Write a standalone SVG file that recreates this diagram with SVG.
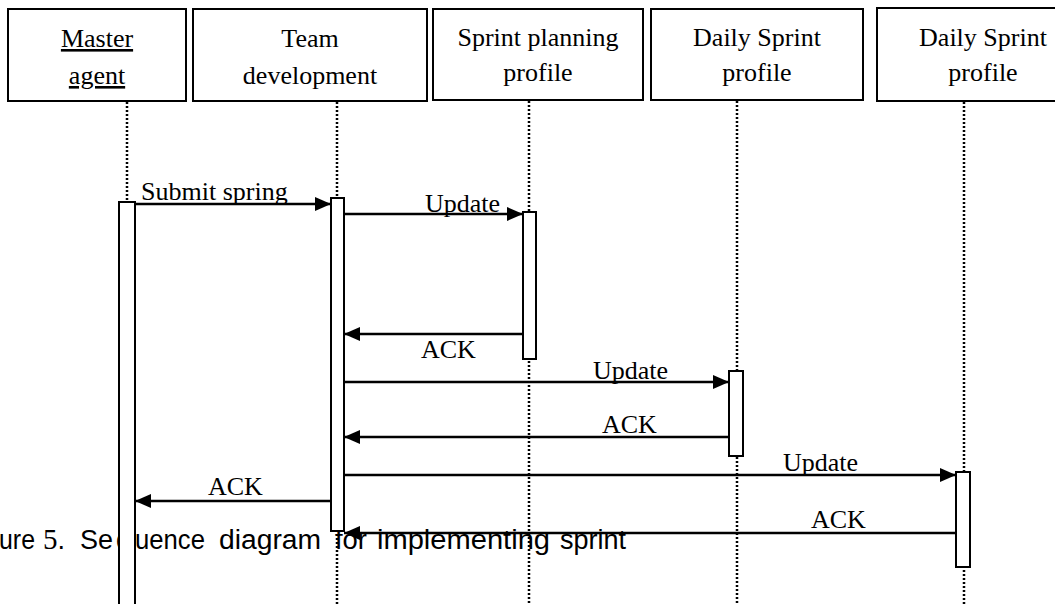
<svg xmlns="http://www.w3.org/2000/svg" width="1055" height="604" viewBox="0 0 1055 604">
  <style>
    .box { fill: #fff; stroke: #000; stroke-width: 2; }
    .name { font-family: "Liberation Serif", "Times New Roman", serif; font-size: 26px; fill: #000; text-anchor: middle; }
    .life { stroke: #000; stroke-width: 2.5; stroke-dasharray: 2 2; fill: none; }
    .act { fill: #fff; stroke: #000; stroke-width: 2; }
    .msg { stroke: #000; stroke-width: 2.5; fill: none; marker-end: url(#head); }
    .lbl { font-family: "Liberation Serif", "Times New Roman", serif; font-size: 26px; fill: #000; }
    .cap { font-family: "Liberation Sans", Arial, sans-serif; font-size: 27px; fill: #000; }
  </style>
  <defs>
    <marker id="head" markerUnits="userSpaceOnUse" markerWidth="17" markerHeight="15" refX="16" refY="7" orient="auto">
      <path d="M0,0 L16,7 L0,14 Z" fill="#000"/>
    </marker>
  </defs>

  <rect width="1055" height="604" fill="#fff"/>

  <!-- figure caption (partly covered by the lifelines and activation bars) -->
  <g id="caption" class="cap">
    <text x="-1" y="549" textLength="36" lengthAdjust="spacingAndGlyphs">ure</text>
    <text x="43" y="549"><tspan font-family="Liberation Serif, serif" font-size="29">5</tspan>.</text>
    <text x="80" y="549">Se<tspan x="116">q</tspan><tspan x="135" textLength="70" lengthAdjust="spacingAndGlyphs">uence</tspan></text>
    <text x="219" y="549" textLength="102" lengthAdjust="spacingAndGlyphs">diagram</text>
    <text x="335" y="549" textLength="32" lengthAdjust="spacingAndGlyphs">for</text>
    <text x="377" y="549" textLength="173" lengthAdjust="spacingAndGlyphs">implementing</text>
    <text x="560" y="549" textLength="66" lengthAdjust="spacingAndGlyphs">sprint</text>
  </g>

  <!-- participants -->
  <g id="master-agent">
    <rect class="box" x="8" y="9" width="178" height="92"/>
    <text class="name" x="97" y="47" text-decoration="underline">Master</text>
    <text class="name" x="97" y="84" text-decoration="underline">agent</text>
    <line class="life" x1="127" y1="102" x2="127" y2="202"/>
    <rect class="act" x="119" y="202" width="16" height="412"/>
  </g>

  <g id="team-development">
    <rect class="box" x="193" y="9" width="234" height="92"/>
    <text class="name" x="310" y="47">Team</text>
    <text class="name" x="310" y="84">development</text>
    <line class="life" x1="337" y1="102" x2="337" y2="604"/>
    <rect class="act" x="331" y="198" width="13" height="333"/>
  </g>

  <g id="sprint-planning-profile">
    <rect class="box" x="433" y="9" width="210" height="91"/>
    <text class="name" x="538" y="46">Sprint planning</text>
    <text class="name" x="538" y="81">profile</text>
    <line class="life" x1="529" y1="101" x2="529" y2="604"/>
    <rect class="act" x="523" y="212" width="13" height="147"/>
  </g>

  <g id="daily-sprint-profile-1">
    <rect class="box" x="651" y="9" width="212" height="91"/>
    <text class="name" x="757" y="46">Daily Sprint</text>
    <text class="name" x="757" y="81">profile</text>
    <line class="life" x1="737" y1="101" x2="737" y2="604"/>
    <rect class="act" x="729" y="371" width="14" height="85"/>
  </g>

  <g id="daily-sprint-profile-2">
    <rect class="box" x="877" y="8" width="212" height="93"/>
    <text class="name" x="983" y="46">Daily Sprint</text>
    <text class="name" x="983" y="81">profile</text>
    <line class="life" x1="964" y1="102" x2="964" y2="604"/>
    <rect class="act" x="956" y="472" width="14" height="95"/>
  </g>

  <!-- messages -->
  <g id="connectors">
    <line class="msg" x1="135" y1="204" x2="331" y2="204"/>
    <text class="lbl" x="141" y="200">Submit spring</text>

    <line class="msg" x1="344" y1="214" x2="523" y2="214"/>
    <text class="lbl" x="425" y="212">Update</text>

    <line class="msg" x1="523" y1="334" x2="344" y2="334"/>
    <text class="lbl" x="421" y="358">ACK</text>

    <line class="msg" x1="344" y1="382" x2="729" y2="382"/>
    <text class="lbl" x="593" y="379">Update</text>

    <line class="msg" x1="729" y1="437" x2="344" y2="437"/>
    <text class="lbl" x="602" y="433">ACK</text>

    <line class="msg" x1="344" y1="475" x2="956" y2="475"/>
    <text class="lbl" x="783" y="471">Update</text>

    <line class="msg" x1="331" y1="501" x2="135" y2="501"/>
    <text class="lbl" x="208" y="495">ACK</text>

    <line class="msg" x1="956" y1="533" x2="344" y2="533"/>
    <text class="lbl" x="811" y="528">ACK</text>
  </g>
</svg>
